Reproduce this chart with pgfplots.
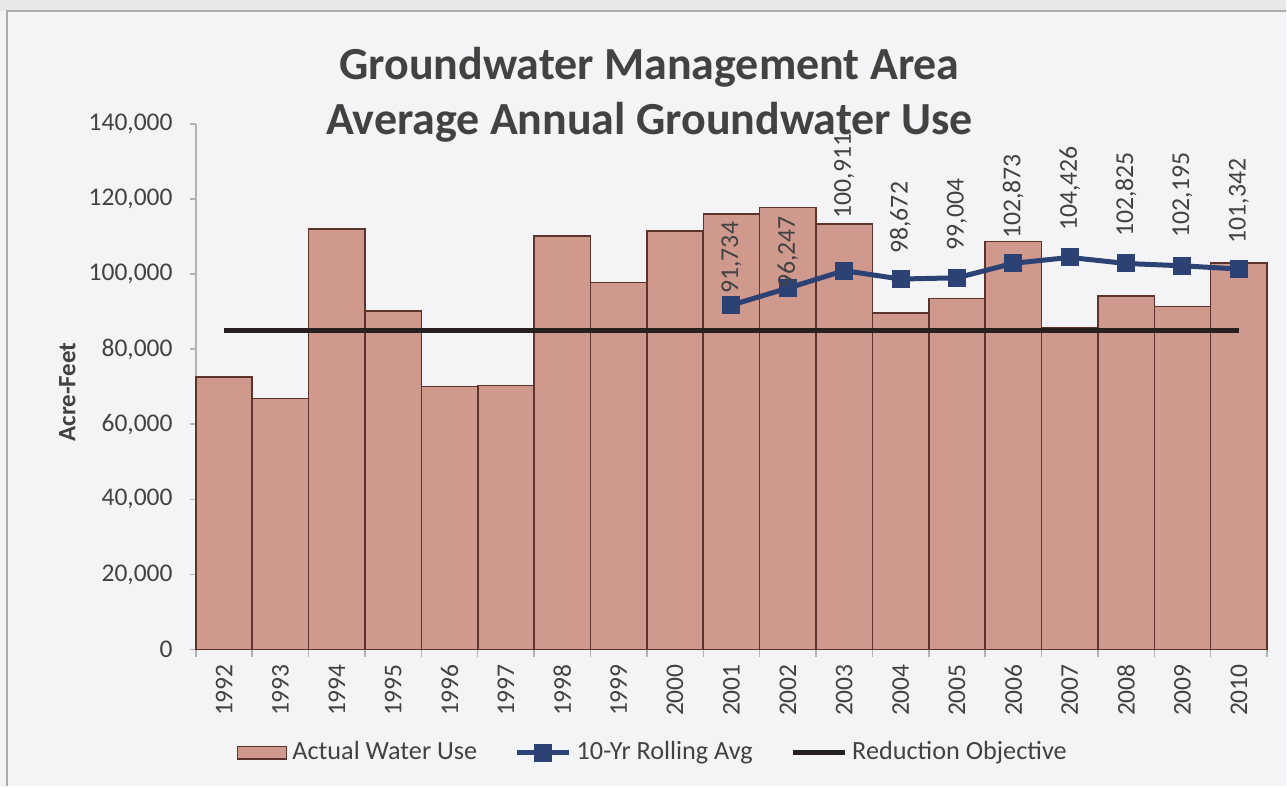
\documentclass[border=0pt]{standalone}
\usepackage{fontspec}
\setmainfont{Carlito}
\usepackage{pgfplots}
\usepackage{pgfplotstable}
\pgfplotsset{compat=1.18}
\definecolor{barfill}{RGB}{208,153,142}
\definecolor{barborder}{RGB}{92,52,44}
\definecolor{lineblue}{RGB}{44,66,116}
\definecolor{redline}{RGB}{38,32,32}
\definecolor{txt}{RGB}{66,66,66}
\definecolor{pagebg}{RGB}{244,244,247}
\pgfplotsset{
  barlegend/.style={legend image code/.code={\draw[fill=barfill, draw=barborder, line width=0.6pt] (0pt,-2.5pt) rectangle (19.6pt,2.5pt);}},
  marklegend/.style={legend image code/.code={\draw[##1, mark repeat=2, mark phase=2] plot coordinates {(0pt,0pt) (10.4pt,0pt) (20.8pt,0pt)};}},
  linelegend/.style={legend image code/.code={\draw[##1] (0pt,0pt) -- (20.8pt,0pt);}},
}
\pgfplotstableread{
x y
0 72600
1 66800
2 112000
3 90200
4 70000
5 70300
6 110200
7 97700
8 111500
9 116000
10 117700
11 113400
12 89600
13 93500
14 108700
15 85800
16 94200
17 91400
18 103000
}\actual
\pgfplotstableread{
x y s
9 91734 4.4
10 96247 0
11 100911 20.8
12 98672 10
13 99004 10.8
14 102873 9.6
15 104426 10.4
16 102825 10.4
17 102195 11.2
18 101342 10
}\rolling
\begin{document}
\begin{tikzpicture}[x=0.4pt,y=0.4pt]
\fill[pagebg] (0,0) rectangle (1287,787);
\fill[gray!18] (0,776) rectangle (1287,787);
\draw[gray!65, line width=0.8pt] (7,0) -- (7,776) -- (1287,776);
\node[font=\bfseries\fontsize{18.4}{22}\selectfont, text=txt, align=center] at (650,692)
  {Groundwater Management Area\\Average Annual Groundwater Use};
\begin{axis}[
  at={(78.4pt,54.8pt)}, anchor=south west,
  scale only axis, width=428.8pt, height=210.4pt,
  xmin=-0.5, xmax=18.5, ymin=0, ymax=140000,
  axis x line*=bottom, axis y line*=left,
  axis line style={draw=gray!60, line width=0.6pt},
  tick align=outside,
  xtick={0,...,18},
  xticklabels={1992,1993,1994,1995,1996,1997,1998,1999,2000,2001,2002,2003,2004,2005,2006,2007,2008,2009,2010},
  major x tick style={draw=none},
  minor xtick={-0.5,0.5,...,18.5},
  minor x tick style={draw=gray!60, line width=0.6pt},
  minor tick length=3.2pt,
  major tick length=2.4pt,
  y tick style={draw=gray!60, line width=0.6pt},
  ytick={0,20000,...,140000},
  scaled y ticks=false,
  /pgf/number format/.cd, fixed, precision=0, 1000 sep={,}, assume math mode=true,
  /pgfplots/.cd,
  tick label style={font=\fontsize{10.2}{12}\selectfont, text=txt},
  xticklabel style={rotate=90, anchor=east},
  yticklabel style={xshift=-3.4pt},
  ylabel={Acre-Feet},
  ylabel style={font=\bfseries\fontsize{10}{12}\selectfont, text=txt, at={(axis description cs:-0.120,0.49)}, anchor=center},
  legend style={at={(axis description cs:0.428,-0.196)}, anchor=center, draw=none, fill=none,
    font=\fontsize{10.5}{12}\selectfont, text=txt,
    /tikz/every even column/.append style={column sep=13pt}},
  legend columns=3,
  clip=false,
]
\addplot[ybar, bar width=22.56pt, bar shift=0pt, fill=barfill, draw=barborder, line width=0.6pt, barlegend]
  table[x=x, y=y] {\actual};
\addlegendentry{Actual Water Use}
\addplot[color=lineblue, line width=2pt, mark=square*, mark size=3.4pt, mark options={solid, line width=0.4pt},
  nodes near coords, point meta=y,
  visualization depends on={\thisrow{s}\as\lshift},
  every node near coord/.append style={rotate=90, anchor=west, xshift={\lshift pt}, font=\fontsize{10.3}{12}\selectfont, text=txt, inner sep=0pt},
  marklegend]
  table[x=x, y=y] {\rolling};
\addlegendentry{10-Yr Rolling Avg}
\addplot[color=redline, line width=2pt, no marks, linelegend]
  coordinates {(0,85000) (18,85000)};
\addlegendentry{Reduction Objective}
\end{axis}
\end{tikzpicture}
\end{document}
